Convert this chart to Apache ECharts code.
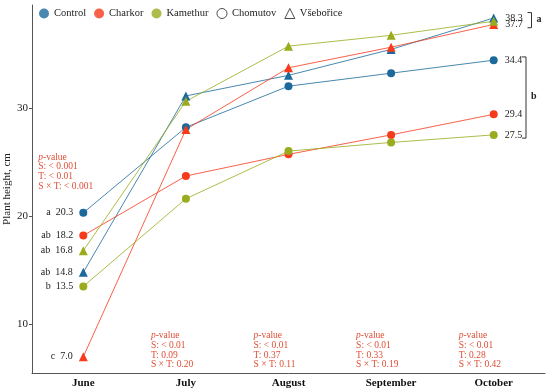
<!DOCTYPE html>
<html><head><meta charset="utf-8">
<script src="https://cdn.jsdelivr.net/npm/echarts@6/dist/echarts.min.js"></script>
<style>html,body{margin:0;padding:0;background:#fff}#c{width:550px;height:390px}</style>
</head><body><div id="c"></div>
<script>
const months = ['June','July','August','September','October'];
const yTicks = [10, 20, 30];
const controlChomutov   = [20.3, 28.2, 32.0, 33.2, 34.4];
const controlVsebor     = [14.8, 31.1, 33.0, 35.4, 38.3];
const charkorChomutov   = [18.2, 23.7, 25.7, 27.5, 29.4];
const charkorVsebor     = [7.0, 28.0, 33.7, 35.6, 37.7];
const kamethurChomutov  = [13.5, 21.6, 26.0, 26.8, 27.5];
const kamethurVsebor    = [16.8, 30.6, 35.7, 36.7, 38.0];
const juneLetters = {cc:'a', cv:'ab', hc:'ab', hv:'c', kc:'b', kv:'ab'};
const pLeft = ['S: < 0.001', 'T: < 0.01', 'S × T: < 0.001'];
const pMonthly = {
  July:      ['S: < 0.01', 'T: 0.09', 'S × T: 0.20'],
  August:    ['S: < 0.01', 'T: 0.37', 'S × T: 0.11'],
  September: ['S: < 0.01', 'T: 0.33', 'S × T: 0.19'],
  October:   ['S: < 0.01', 'T: 0.28', 'S × T: 0.42']
};

const BLUE = '#1b6a9b', RED = '#f63a1c', GREEN = '#9aab1e', PRED = '#de4f35';
const FONT = '"Liberation Serif", "DejaVu Serif", serif';

function mk(name, vals, color, symbol, letter, rightLabel, rightOffset) {
  return {
    name, type: 'line', data: vals.map((v, i) => {
      const d = {value: v};
      if (i === 0) d.label = {show: true, position: 'left', distance: 6,
        formatter: letter + '  ' + v.toFixed(1)};
      if (i === vals.length - 1 && rightLabel) d.label = {show: true, position: 'right', distance: 7,
        offset: rightOffset || [0, 0], formatter: v.toFixed(1)};
      return d;
    }),
    symbol, symbolSize: symbol === 'circle' ? 8 : 9,
    itemStyle: {color},
    lineStyle: {color, width: 1, opacity: 0.8},
    label: {fontFamily: FONT, fontSize: 10, color: '#222'},
    labelLayout: {hideOverlap: false},
    z: 3, silent: true, animation: false
  };
}

const chart = echarts.init(document.getElementById('c'));
const legendSeries = ['Control','Charkor','Kamethur','Chomutov','Všebořice'].map(n => ({name: n, type: 'scatter', data: []}));
chart.setOption({
  animation: false,
  textStyle: {fontFamily: FONT},
  grid: {left: 32, right: 5, top: 5, bottom: 17, containLabel: false, outerBoundsMode: 'none'},
  legend: {
    left: 39, top: 8, itemWidth: 10, itemHeight: 10, itemGap: 8, padding: 0,
    textStyle: {fontFamily: FONT, fontSize: 10.5, color: '#222'},
    data: [
      {name: 'Control', icon: 'circle', itemStyle: {color: BLUE}},
      {name: 'Charkor', icon: 'circle', itemStyle: {color: RED}},
      {name: 'Kamethur', icon: 'circle', itemStyle: {color: GREEN}},
      {name: 'Chomutov', icon: 'circle', itemStyle: {color: '#fff', borderColor: '#222', borderWidth: 1}},
      {name: 'Všebořice', icon: 'triangle', itemStyle: {color: '#fff', borderColor: '#222', borderWidth: 1}}
    ]
  },
  xAxis: {
    type: 'category', data: months, boundaryGap: true,
    axisLine: {lineStyle: {color: '#555', width: 1}},
    axisTick: {alignWithLabel: true, inside: true, length: 4, lineStyle: {color: '#555'}},
    axisLabel: {fontFamily: FONT, fontSize: 11, fontWeight: 'bold', color: '#111', margin: 5}
  },
  yAxis: {
    type: 'value', min: 5.5, max: 39.5,
    name: 'Plant height, cm', nameLocation: 'middle', nameGap: 19, nameMoveOverlap: false,
    nameTextStyle: {fontFamily: FONT, fontSize: 11, color: '#222'},
    axisLine: {show: true, lineStyle: {color: '#555', width: 1}},
    axisTick: {show: true, length: 3, customValues: yTicks, lineStyle: {color: '#555'}},
    axisLabel: {fontFamily: FONT, fontSize: 11, color: '#222', customValues: yTicks, margin: 4},
    splitLine: {show: false}
  },
  series: [
    mk('Control Chomutov', controlChomutov, BLUE, 'circle', juneLetters.cc, true),
    mk('Control Všebořice', controlVsebor, BLUE, 'triangle', juneLetters.cv, true, [0, -3]),
    mk('Charkor Chomutov', charkorChomutov, RED, 'circle', juneLetters.hc, true),
    mk('Charkor Všebořice', charkorVsebor, RED, 'triangle', juneLetters.hv, true, [0, 0]),
    mk('Kamethur Chomutov', kamethurChomutov, GREEN, 'circle', juneLetters.kc, true),
    mk('Kamethur Všebořice', kamethurVsebor, GREEN, 'triangle', juneLetters.kv, false)
  ].concat(legendSeries)
});

function px(cat, v) { return chart.convertToPixel({xAxisIndex: 0, yAxisIndex: 0}, [cat, v]); }
const rich = {i: {fontStyle: 'italic', fontFamily: FONT, fontSize: 9.5, fill: PRED, lineHeight: 9.7},
              n: {fontFamily: FONT, fontSize: 9.5, fill: PRED, lineHeight: 9.7}};
function pText(lines) {
  return '{i|p}{n|-value}\n' + lines.map(l => '{n|' + l + '}').join('\n');
}
const graphics = [];
const juneX = px('June', 20)[0];
graphics.push({type: 'text', x: juneX - 45, y: px('June', 25.9)[1],
  style: {text: pText(pLeft), rich, fill: PRED, font: '9.5px ' + FONT, lineHeight: 9.7}});
Object.keys(pMonthly).forEach(m => {
  const p = px(m, 9.4);
  graphics.push({type: 'text', x: p[0] - 35, y: p[1],
    style: {text: pText(pMonthly[m]), rich, fill: PRED, font: '9.5px ' + FONT, lineHeight: 9.7}});
});
function bracket(xv, top, bot, letter, w) {
  const t = px('October', top)[1], b = px('October', bot)[1];
  graphics.push({type: 'polyline', shape: {points: [[xv - w, t], [xv, t], [xv, b], [xv - w, b]]},
    style: {stroke: '#333', lineWidth: 1, fill: null}});
  graphics.push({type: 'text', x: xv + 5, y: (t + b) / 2 - 6,
    style: {text: letter, font: 'bold 10px ' + FONT, fill: '#222'}});
}
bracket(531.5, 38.8, 37.4, 'a', 4);
bracket(526, 34.7, 27.2, 'b', 4);
chart.setOption({graphic: graphics});
</script></body></html>
